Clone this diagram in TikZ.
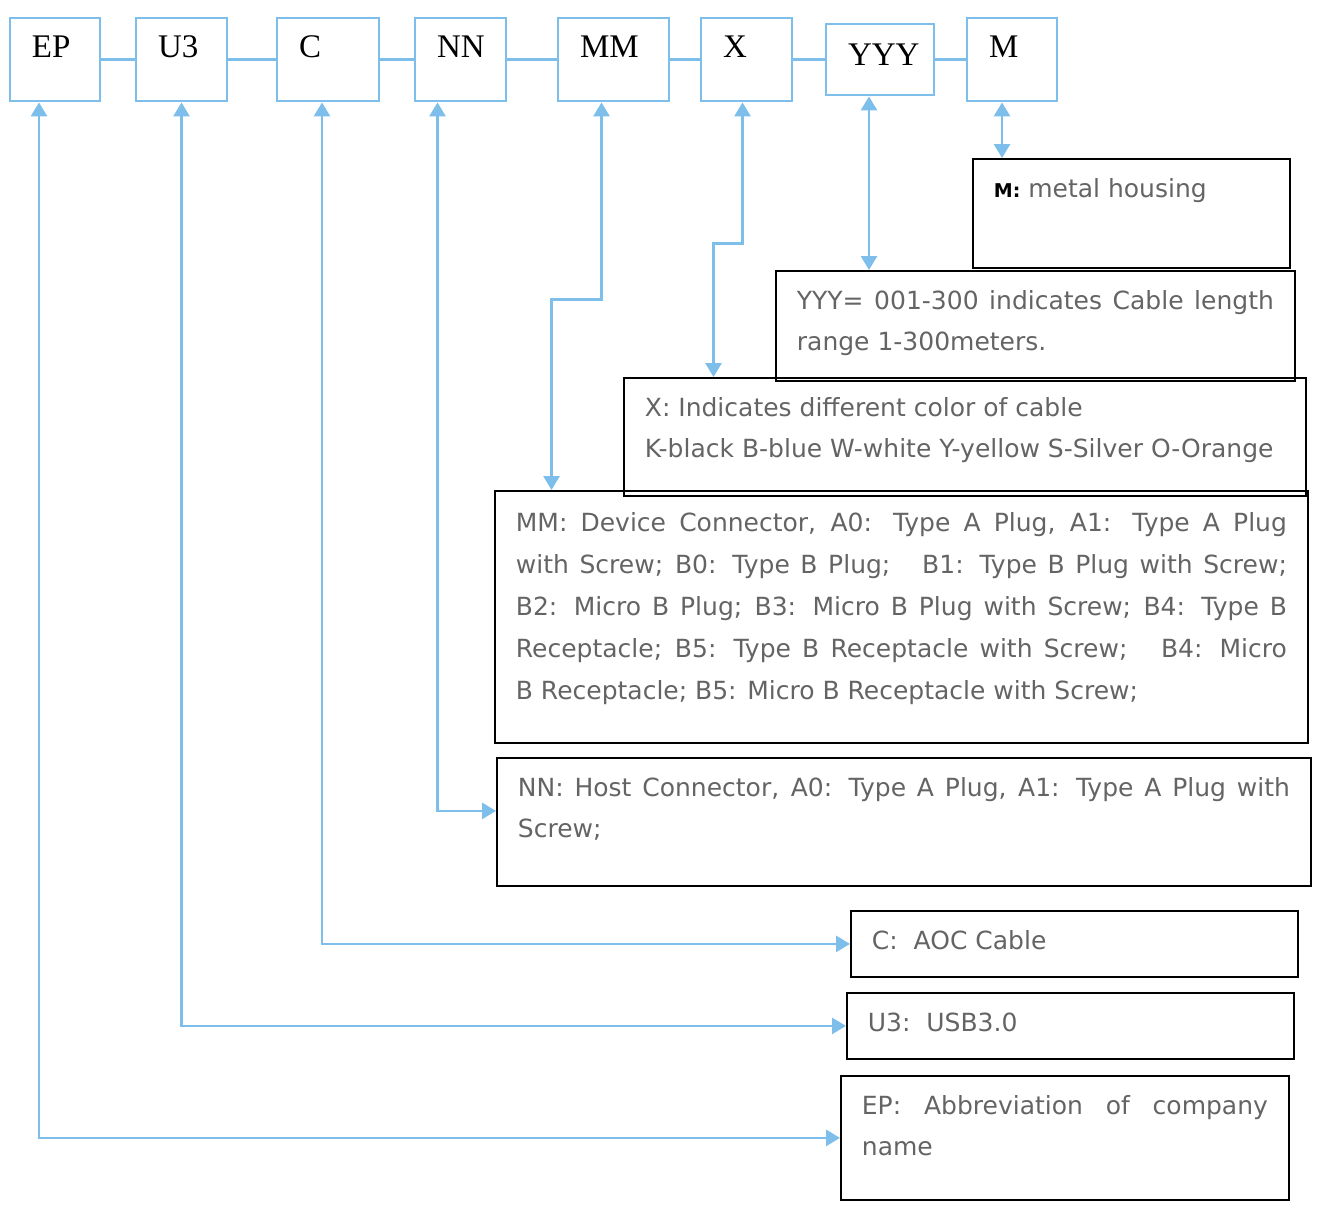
\documentclass[tikz,border=0pt]{standalone}
\usepackage{fontspec}
\setmainfont{Liberation Serif}
\newfontfamily\descfont{DejaVu Sans}
\usetikzlibrary{arrows.meta}
\definecolor{lineblue}{RGB}{125,190,235}
\definecolor{textgray}{RGB}{100,100,100}
\newcommand{\descpar}[3]{\parbox[t][#2][t]{#1}{#3}}
\begin{document}
\begin{tikzpicture}[x=0.5pt,y=-0.5pt,
topbox/.style={draw=lineblue,line width=1.4pt,minimum height=41.5pt,inner xsep=11pt,text width=#1,align=left,text height=10pt,text depth=12.5pt,font=\fontsize{16.5}{18}\selectfont},
descbox/.style={draw,line width=0.9pt,anchor=north west,inner xsep=10.5pt,inner ysep=10pt,text=textgray,font=\descfont\fontsize{12.5}{20.5}\selectfont},
conn/.style={draw=lineblue,line width=1.4pt,{Triangle[width=8pt,length=7pt]}-{Triangle[width=8pt,length=7pt]}}]
\useasboundingbox(0,0)rectangle(1320,1205);
% code boxes
\node[topbox=23pt](EP)at(55,59.5){EP};
\node[topbox=23.5pt](U3)at(181.5,59.5){U3};
\node[topbox=29pt](C)at(328,59.5){C};
\node[topbox=23.5pt](NN)at(460.5,59.5){NN};
\node[topbox=33.5pt](MM)at(613.5,59.5){MM};
\node[topbox=23.5pt](X)at(746.5,59.5){X};
\node[topbox=32pt,minimum height=35.5pt,text depth=4pt](YYY)at(880,59.5){YYY};
\node[topbox=23pt](M)at(1012,59.5){M};
\draw[lineblue,line width=1.4pt](EP)--(U3)(U3)--(C)(C)--(NN)(NN)--(MM)(MM)--(X)(X)--(YYY)(YYY)--(M);
% descriptions
\node[descbox](md)at(972,158){\descpar{137.5pt}{34.5pt}{{\color{black}\bfseries\fontsize{9.5}{12}\selectfont M:} metal housing}};
\node[descbox](yd)at(775,270){\descpar{238.5pt}{35pt}{YYY= 001-300 indicates Cable length range 1-300meters.}};
\node[descbox](xd)at(623,377){\descpar{320pt}{39pt}{X: Indicates different color of cable\\K-black B-blue W-white Y-yellow S-Silver O-Orange}};
\node[descbox,inner ysep=11pt](mmd)at(494,490){\descpar{385.5pt}{104pt}{\baselineskip=21pt MM: Device Connector, A0: Type A Plug, A1: Type A Plug\linebreak
with Screw; B0: Type B Plug;\ \ \ B1: Type B Plug with Screw;\linebreak
B2: Micro B Plug; B3: Micro B Plug with Screw; B4: Type B\linebreak
Receptacle; B5: Type B Receptacle with Screw;\ \ \ B4: Micro\linebreak
B Receptacle; B5: Micro B Receptacle with Screw;}};
\node[descbox](nd)at(496,757){\descpar{386pt}{44pt}{NN: Host Connector, A0: Type A Plug, A1: Type A Plug with Screw;}};
\node[descbox](cd)at(850,910){\descpar{202.5pt}{13pt}{C:\ \ AOC Cable}};
\node[descbox](ud)at(846,992){\descpar{202.5pt}{13pt}{U3:\ \ USB3.0}};
\node[descbox](ed)at(840,1075){\descpar{203pt}{42pt}{EP:\ Abbreviation of company name}};
% connectors
\coordinate(mA)at([xshift=-5pt]M.south);
\coordinate(yA)at([xshift=-5.5pt]YYY.south);
\coordinate(xA)at([xshift=-2pt]X.south);
\coordinate(mmA)at([xshift=-6pt]MM.south);
\coordinate(nA)at([xshift=-11.5pt]NN.south);
\coordinate(cA)at([xshift=-3pt]C.south);
\coordinate(uA)at(U3.south);
\coordinate(eA)at([xshift=-8pt]EP.south);
\draw[conn](mA)--(mA|-md.north);
\draw[conn](yA)--(yA|-yd.north);
\draw[conn](xA)--++(0,141)--++(-29,0)coordinate(xB)--(xB|-xd.north);
\draw[conn](mmA)--++(0,197)--++(-50,0)coordinate(mmB)--(mmB|-mmd.north);
\draw[conn](nA)|-([yshift=5.5pt]nd.west);
\draw[conn](cA)|-(cd.west);
\draw[conn](uA)|-(ud.west);
\draw[conn](eA)|-(ed.west);
\end{tikzpicture}
\end{document}
